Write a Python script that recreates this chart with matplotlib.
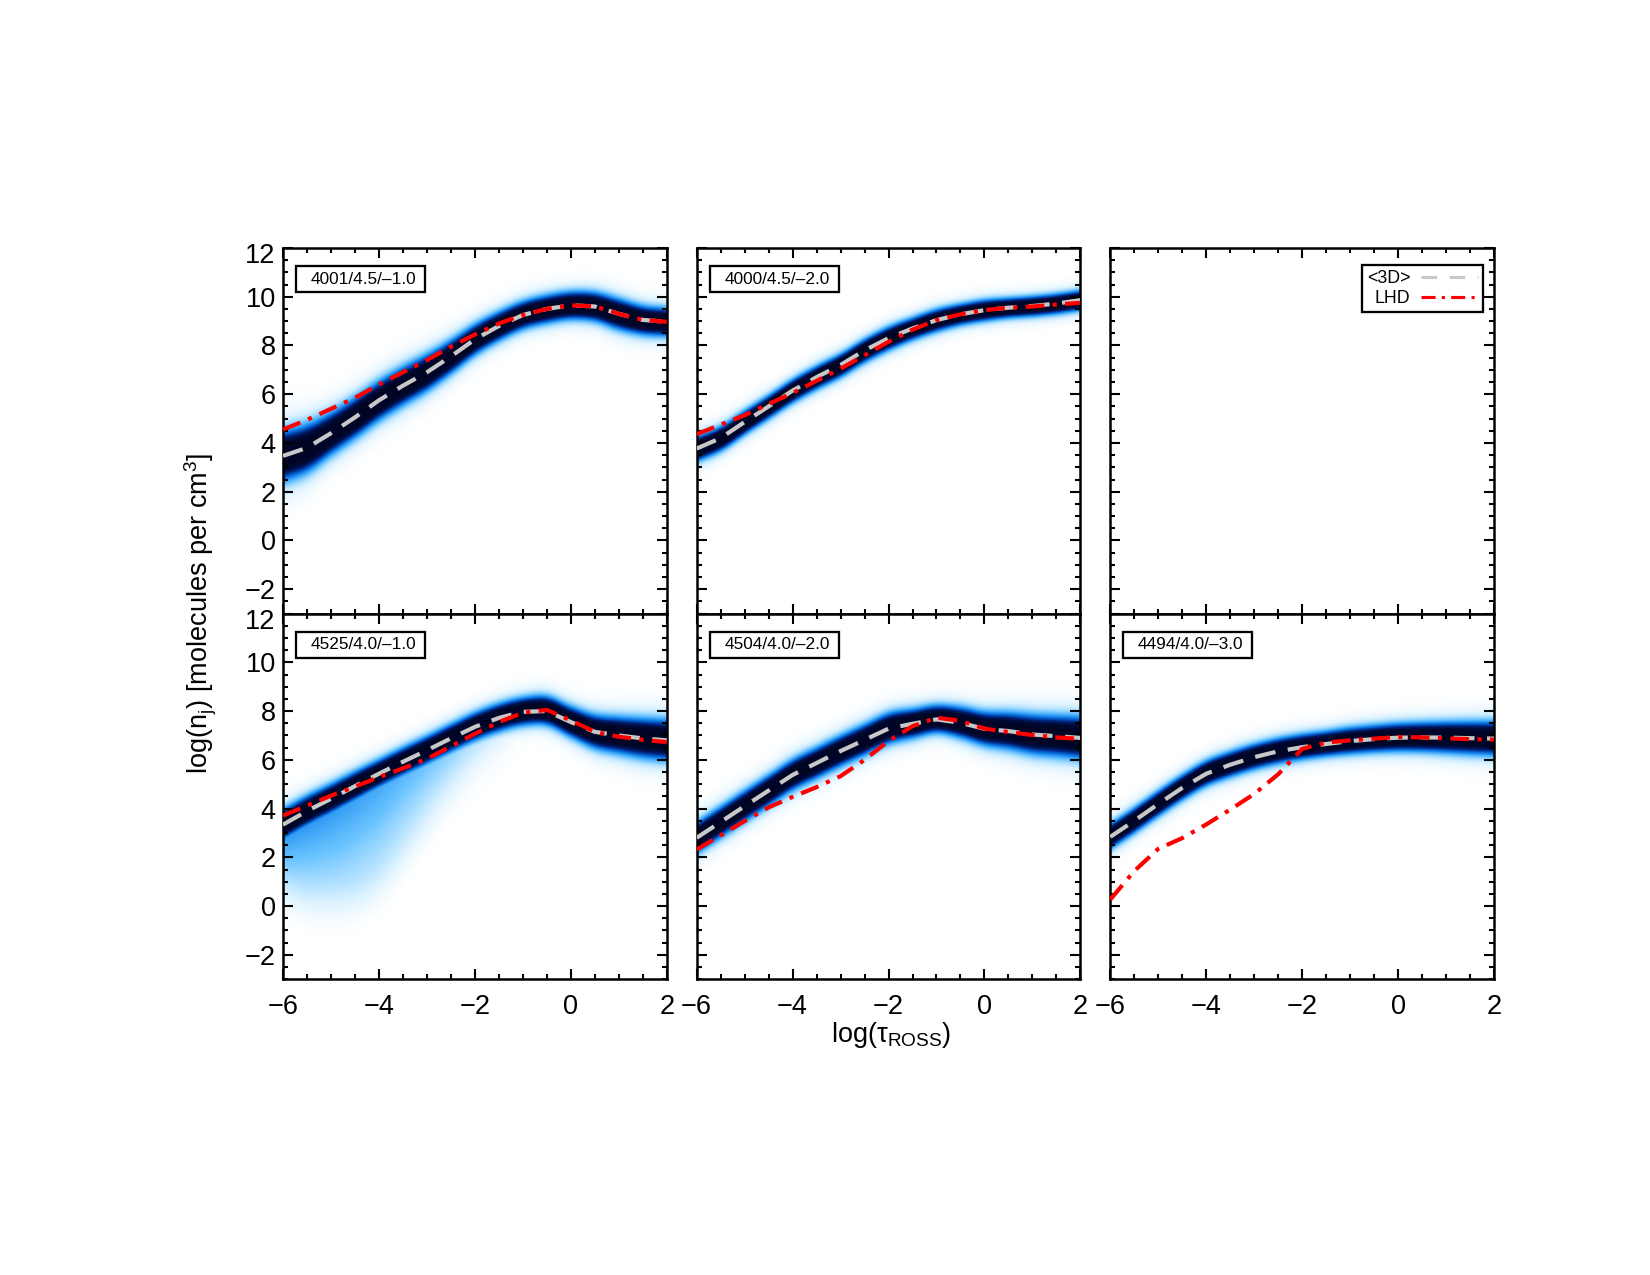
import numpy as np
import matplotlib
matplotlib.use("Agg")
import matplotlib.pyplot as plt
from matplotlib.colors import LinearSegmentedColormap
from matplotlib.patches import Rectangle
from matplotlib.ticker import MultipleLocator
from matplotlib.transforms import ScaledTranslation

plt.rcParams['font.family'] = ['Liberation Sans', 'DejaVu Sans']
plt.rcParams['mathtext.default'] = 'regular'

# log(tau_ROSS) grid where the curves were read
tau = np.arange(-6, 2.01, 0.5)

# panel labels (Teff/logg/[Fe/H])
labels = ['4001/4.5/\u20131.0', '4000/4.5/\u20132.0', None,
          '4525/4.0/\u20131.0', '4504/4.0/\u20132.0', '4494/4.0/\u20133.0']

# <3D> mean curves
mean3d = [
    [3.47, 3.8, 4.4, 5.05, 5.75, 6.35, 6.9, 7.55, 8.25, 8.8, 9.25, 9.5, 9.65, 9.6, 9.3, 9.05, 8.97],
    [3.77, 4.2, 4.86, 5.5, 6.15, 6.7, 7.2, 7.8, 8.3, 8.7, 9.04, 9.28, 9.45, 9.55, 9.62, 9.72, 9.86],
    None,
    [3.34, 3.9, 4.4, 4.92, 5.43, 5.92, 6.39, 6.88, 7.35, 7.72, 7.97, 8.0, 7.55, 7.15, 7.0, 6.88, 6.8],
    [2.8, 3.45, 4.1, 4.74, 5.38, 5.87, 6.36, 6.82, 7.28, 7.48, 7.66, 7.52, 7.27, 7.18, 7.04, 6.97, 6.9],
    [2.84, 3.5, 4.19, 4.85, 5.43, 5.8, 6.11, 6.35, 6.52, 6.65, 6.77, 6.85, 6.91, 6.92, 6.91, 6.89, 6.87],
]

# LHD (1D) curves
lhd = [
    [4.55, 4.95, 5.4, 5.85, 6.4, 6.9, 7.4, 7.95, 8.45, 8.9, 9.25, 9.5, 9.65, 9.6, 9.3, 9.05, 8.97],
    [4.36, 4.75, 5.14, 5.6, 6.05, 6.55, 7.05, 7.6, 8.15, 8.65, 9.04, 9.28, 9.45, 9.55, 9.6, 9.68, 9.75],
    None,
    [3.71, 4.12, 4.53, 4.9, 5.29, 5.65, 6.04, 6.55, 7.07, 7.55, 7.93, 8.05, 7.62, 7.15, 6.95, 6.82, 6.73],
    [2.32, 2.9, 3.49, 4.05, 4.48, 4.88, 5.33, 6.0, 6.77, 7.38, 7.73, 7.6, 7.28, 7.14, 7.02, 6.92, 6.86],
    [0.27, 1.44, 2.35, 2.79, 3.35, 3.96, 4.6, 5.41, 6.45, 6.71, 6.8, 6.87, 6.94, 6.92, 6.88, 6.85, 6.83],
]

# half-width of the 3D spread around the mean
spread = [
    [0.9, 0.85, 0.75, 0.72, 0.7, 0.68, 0.65, 0.6, 0.55, 0.52, 0.5, 0.5, 0.5, 0.52, 0.55, 0.52, 0.5],
    [0.45, 0.44, 0.43, 0.42, 0.42, 0.42, 0.42, 0.42, 0.42, 0.4, 0.4, 0.38, 0.38, 0.36, 0.36, 0.36, 0.36],
    None,
    [0.55, 0.54, 0.53, 0.52, 0.5, 0.5, 0.5, 0.5, 0.5, 0.5, 0.5, 0.52, 0.55, 0.6, 0.65, 0.7, 0.72],
    [0.55, 0.55, 0.55, 0.55, 0.55, 0.55, 0.55, 0.55, 0.55, 0.52, 0.5, 0.55, 0.6, 0.65, 0.7, 0.72, 0.75],
    [0.45, 0.45, 0.45, 0.45, 0.45, 0.45, 0.45, 0.45, 0.45, 0.45, 0.47, 0.48, 0.5, 0.52, 0.55, 0.58, 0.6],
]

# faint low tail of the 4525/4.0/-1.0 model
tail_low = [0.5, 0.15, 0.05, 0.15, 0.7, 1.8, 3.1, 4.3, 5.3, 6.1, 6.9, 7.6, 7.5, 7.1, 6.9, 6.8, 6.7]
tail_amp = [0.42, 0.41, 0.39, 0.36, 0.33, 0.29, 0.25, 0.21, 0.16, 0.12, 0.07, 0.0, 0.0, 0.0, 0.0, 0.0, 0.0]

cmap = LinearSegmentedColormap.from_list('dens', [
    (0.0, '#ffffff'), (0.06, '#d6f0ff'), (0.2, '#6cc4ff'), (0.38, '#1a8cf0'),
    (0.55, '#0058c8'), (0.72, '#00227a'), (0.88, '#000c3c'), (1.0, '#000525')])


def smooth(xn, yn, xs):
    # Catmull-Rom curve through the read nodes, used for the density image
    yn = np.asarray(yn, float)
    h = xn[1] - xn[0]
    yp = np.concatenate([[2 * yn[0] - yn[1]], yn, [2 * yn[-1] - yn[-2]]])
    k = np.clip(((xs - xn[0]) // h).astype(int), 0, len(xn) - 2)
    t = (xs - xn[k]) / h
    p0, p1, p2, p3 = yp[k], yp[k + 1], yp[k + 2], yp[k + 3]
    return 0.5 * (2 * p1 + (-p0 + p2) * t + (2 * p0 - 5 * p1 + 4 * p2 - p3) * t ** 2
                  + (-p0 + 3 * p1 - 3 * p2 + p3) * t ** 3)


fig = plt.figure(figsize=(11, 8.5), dpi=150)
gs = fig.add_gridspec(2, 3, left=0.1715, right=0.9055, top=0.8055, bottom=0.232,
                      wspace=0.078, hspace=0)

xg = np.linspace(-6, 2, 500)
yg = np.linspace(-3, 12, 700)
X, Y = np.meshgrid(xg, yg)

for i in range(6):
    ax = fig.add_subplot(gs[i // 3, i % 3])
    ax.set_xlim(-6, 2)
    ax.set_ylim(-3, 12)
    if mean3d[i] is not None:
        c = smooth(tau, mean3d[i], xg)[None, :]
        w = smooth(tau, spread[i], xg)[None, :]
        d = np.abs(Y - c) / w
        dens = 1.0 / (1.0 + d ** 5)
        if i == 3:
            lo = smooth(tau, tail_low, xg)[None, :]
            amp = np.clip(smooth(tau, tail_amp, xg), 0, None)[None, :]
            frac = np.clip((Y - lo) / np.maximum(c - lo, 0.1), 0, 1)
            edge = 1.0 / (1.0 + np.exp(-(Y - lo) / 0.4))
            t = amp * (0.25 + 0.75 * frac ** 1.5) * edge * (Y < c)
            dens = np.maximum(dens, t)
        ax.imshow(dens, extent=(-6, 2, -3, 12), origin='lower', aspect='auto',
                  cmap=cmap, vmin=0, vmax=1, interpolation='bilinear', zorder=1)
        ax.plot(tau, mean3d[i], color='#c8c8c8', lw=2, dashes=(5, 3), zorder=3)
        ax.plot(tau, lhd[i], color='red', lw=2, dashes=(4.5, 2, 1, 2), zorder=4)
    else:
        ax.plot([], [], color='#c8c8c8', lw=1.5, dashes=(5, 4), label='<3D>')
        ax.plot([], [], color='red', lw=1.5, dashes=(4.5, 2, 1, 2), label='LHD')
        leg = ax.legend(loc='upper right', bbox_to_anchor=(0.971, 0.953), borderaxespad=0,
                        markerfirst=False, fontsize=8.5, handlelength=3.2, fancybox=False,
                        framealpha=1, edgecolor='black', borderpad=0.3, labelspacing=0.15,
                        handletextpad=0.6)
        leg.get_frame().set_linewidth(1.1)
    if labels[i] is not None:
        ax.add_patch(Rectangle((0.034, 0.8795), 0.336, 0.0712, transform=ax.transAxes,
                               fill=False, ec='black', lw=1.1, zorder=5))
        ax.text(0.072, 0.915, labels[i], transform=ax.transAxes, ha='left', va='center',
                fontsize=8.3, zorder=6)
    ax.xaxis.set_major_locator(MultipleLocator(2))
    ax.xaxis.set_minor_locator(MultipleLocator(0.5))
    ax.yaxis.set_major_locator(MultipleLocator(2))
    ax.yaxis.set_minor_locator(MultipleLocator(0.5))
    ax.tick_params(which='both', direction='in', top=True, right=True, width=1)
    ax.tick_params(which='major', length=5, labelsize=13)
    ax.tick_params(axis='x', which='major', pad=7)
    ax.tick_params(which='minor', length=2.5)
    for s in ax.spines.values():
        s.set_linewidth(1.2)
    if i % 3 != 0:
        ax.set_yticklabels([])
    else:
        # the top label sits a little lower in the original
        fig.canvas.draw()
        for lab in ax.get_yticklabels():
            if lab.get_position()[1] == 12:
                lab.set_transform(lab.get_transform() +
                                  ScaledTranslation(0, -2.5 / 72, fig.dpi_scale_trans))
    if i // 3 == 0:
        ax.set_xticklabels([])

fig.text(0.54, 0.188, r'log($\tau_{ROSS}$)', ha='center', va='center', fontsize=13)
fig.text(0.122, 0.519, r'log(n$_j$) [molecules per cm$^3$]', ha='center', va='center',
         rotation=90, fontsize=13)

fig.savefig('out.png', dpi=150)
